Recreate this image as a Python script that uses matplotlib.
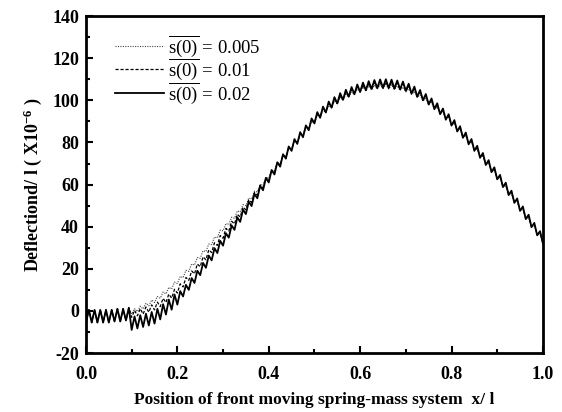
import numpy as np
import matplotlib
matplotlib.use("Agg")
import matplotlib.pyplot as plt
from matplotlib.ticker import MultipleLocator, FormatStrFormatter

plt.rcParams['font.family'] = ['Liberation Serif', 'DejaVu Serif']
plt.rcParams['mathtext.fontset'] = 'custom'
plt.rcParams['mathtext.rm'] = 'Liberation Serif'
plt.rcParams['mathtext.it'] = 'Liberation Serif:italic'
plt.rcParams['mathtext.bf'] = 'Liberation Serif:bold'
plt.rcParams['axes.unicode_minus'] = False

# sample positions x/l (161 points, 0 .. 1)
x = np.linspace(0.0, 1.0, 161)

# 0 .. 0.094 : all three curves share this ripple band
band = [-5.5, 0.5, -5.5, 0.5, -5.5, 0.5, -5.5, 0.5,
        -5.5, 0.5, -5.0, 1.0, -5.0, 1.0, -4.5, 1.5]

# from x = 0.1 on
solid_tail = [-9.0, -2.6, -8.3, -2.0, -7.6, -1.3, -6.9, -0.5, -6.0, 1.0,
              -4.0, 3.2, -1.7, 5.4, 0.6, 7.8, 3.0, 9.4, 6.9, 12.4,
              10.0, 15.6, 13.3, 19.1, 17.0, 22.8, 20.5, 26.3, 24.0, 29.8,
              27.5, 33.3, 31.0, 36.9, 34.8, 40.6, 38.5, 44.4, 42.3, 48.1,
              46.0, 51.9, 49.8, 55.6, 53.5, 59.4, 57.3, 63.1, 61.0, 66.9,
              64.8, 70.6, 68.5, 74.4, 72.3, 78.1, 76.0, 81.6, 79.3, 84.9,
              82.5, 88.1, 85.8, 91.4, 89.0, 94.4, 91.7, 97.0, 94.2, 99.4,
              96.5, 101.5, 98.5, 103.4, 100.2, 105.0, 101.7, 106.3, 102.9, 107.5,
              104.0, 108.4, 104.8, 109.1, 105.4, 109.6, 105.8, 109.9, 106.0, 110.0,
              105.9, 109.8, 105.6, 109.4, 105.2, 108.9, 104.5, 107.9, 103.2, 106.5,
              101.7, 104.9, 100.0, 103.0, 98.0, 100.9, 95.8, 98.6, 93.4, 96.1,
              90.8, 93.4, 88.0, 90.6, 85.2, 87.7, 82.2, 84.7, 79.1, 81.6,
              76.0, 78.4, 72.7, 75.0, 69.3, 71.6, 65.9, 68.2, 62.5, 64.6,
              58.8, 60.9, 55.0, 57.1, 51.3, 53.4, 47.5, 49.6, 43.6, 45.7,
              39.8, 41.8, 35.9, 37.9, 32.0]

dashed_tail = [-3.0, 0.3, -2.3, 1.1, -1.5, 1.9, -0.6, 2.9, 0.5, 4.2,
               2.1, 6.0, 4.0, 8.0, 6.1, 10.3, 8.5, 12.9, 11.4, 15.9,
               14.5, 19.0, 17.6, 22.3, 21.0, 25.7, 24.3, 29.0, 27.7, 32.4,
               31.1, 35.8, 34.5, 39.2, 37.9, 42.6, 41.3, 45.9, 44.6, 49.3,
               48.0, 52.8, 51.5, 56.3, 55.0, 59.8, 58.5, 63.3, 62.0, 66.8,
               65.6, 70.4, 69.3, 74.1, 72.9, 77.7, 76.5, 81.1, 79.8, 84.4,
               83.0, 87.6, 86.3, 90.9, 89.5, 93.8, 92.1, 96.3, 94.5, 98.6,
               96.6, 100.6, 98.5, 102.4, 100.2, 104.0, 101.7, 105.3, 102.9, 106.5,
               104.0, 107.3, 104.6, 107.9, 105.2, 108.4, 105.6, 108.7, 105.8, 108.8,
               105.7, 108.6, 105.4, 108.2, 105.0, 107.8, 104.5, 106.9, 103.2, 105.5,
               101.7, 103.9, 100.1, 102.2, 98.3, 100.2, 96.1, 97.9, 93.7, 95.5,
               91.2, 92.8, 88.3, 89.9, 85.5, 87.0, 82.5, 84.0, 79.4, 80.9,
               76.3, 77.6, 72.9, 74.2, 69.5, 70.9, 66.2, 67.5, 62.8, 63.9,
               59.1, 60.2, 55.3, 56.4, 51.6, 52.7, 47.8, 48.9, 43.9, 45.0,
               40.1, 41.1, 36.2, 37.2, 32.3]

dotted_tail = [-1.5, 1.1, -0.3, 2.3, 1.0, 3.7, 2.4, 5.2, 4.0, 6.9,
               6.0, 9.0, 8.1, 11.2, 10.4, 13.7, 13.0, 16.4, 15.8, 19.3,
               18.8, 22.3, 21.8, 25.4, 25.0, 28.6, 28.2, 31.8, 31.5, 35.1,
               34.7, 38.4, 38.0, 41.5, 41.0, 44.5, 44.0, 47.5, 47.0, 50.5,
               50.0, 53.6, 53.2, 56.9, 56.5, 60.1, 59.7, 63.4, 63.0, 66.7,
               66.5, 70.2, 70.0, 73.7, 73.5, 77.2, 77.0, 80.6, 80.1, 83.7,
               83.3, 86.8, 86.4, 89.9, 89.5, 92.8, 92.0, 95.2, 94.4, 97.5,
               96.6, 99.6, 98.5, 101.3, 100.1, 102.8, 101.5, 104.1, 102.7, 105.4,
               104.0, 106.3, 104.6, 106.8, 105.0, 107.2, 105.3, 107.4, 105.5, 107.5,
               105.4, 107.3, 105.1, 106.9, 104.6, 106.3, 104.0, 105.4, 102.8, 104.1,
               101.4, 102.6, 99.8, 100.9, 98.0, 99.0, 95.9, 96.8, 93.7, 94.5,
               91.3, 91.9, 88.5, 89.1, 85.7, 86.2, 82.7, 83.2, 79.6, 80.1,
               76.5, 76.8, 73.1, 73.4, 69.7, 70.1, 66.4, 66.7, 63.0, 63.1,
               59.3, 59.4, 55.5, 55.6, 51.8, 51.9, 48.0, 48.1, 44.1, 44.2,
               40.3, 40.3, 36.4, 36.4, 32.5]

labels = [r'$\overline{\mathrm{s(0)}}$ = 0.005',
          r'$\overline{\mathrm{s(0)}}$ = 0.01',
          r'$\overline{\mathrm{s(0)}}$ = 0.02']

fig = plt.figure(figsize=(5.62, 4.12), dpi=100)
ax = fig.add_axes([0.153, 0.143, 0.813, 0.818])

ax.plot(x, band + dotted_tail, color='#444444', lw=0.8, ls=(0, (1, 1.2)), label=labels[0])
ax.plot(x, band + dashed_tail, color='black', lw=0.9, ls=(0, (2.5, 1.5)), label=labels[1])
ax.plot(x, band + solid_tail, color='black', lw=1.3, label=labels[2])

ax.set_xlim(0.0, 1.0)
ax.set_ylim(-20, 140)
ax.xaxis.set_major_locator(MultipleLocator(0.2))
ax.xaxis.set_minor_locator(MultipleLocator(0.1))
ax.yaxis.set_major_locator(MultipleLocator(20))
ax.yaxis.set_minor_locator(MultipleLocator(10))
ax.xaxis.set_major_formatter(FormatStrFormatter('%.1f'))
ax.tick_params(which='both', direction='in', top=False, right=False, width=1.5)
ax.tick_params(which='major', length=5, labelsize=13)
ax.tick_params(axis='x', which='major', pad=9)
ax.tick_params(axis='y', which='major', pad=5)
ax.tick_params(which='minor', length=3)
for lab in ax.get_xticklabels() + ax.get_yticklabels():
    lab.set_fontweight('bold')
for sp in ax.spines.values():
    sp.set_linewidth(2)

ax.set_xlabel('Position of front moving spring-mass system  x/ l', fontsize=12.5,
              fontweight='bold', labelpad=7)
ax.set_ylabel(r'Deflectiond/ l ( X10$^{\mathbf{-6}}$ )', fontsize=13,
              fontweight='bold', labelpad=6)

ax.legend(loc='upper left', bbox_to_anchor=(0.063, 0.95), frameon=False,
          borderpad=0, borderaxespad=0,
          fontsize=13.5, handlelength=2.6, handletextpad=0.25, labelspacing=-0.06)

fig.savefig('out.png', dpi=100)
